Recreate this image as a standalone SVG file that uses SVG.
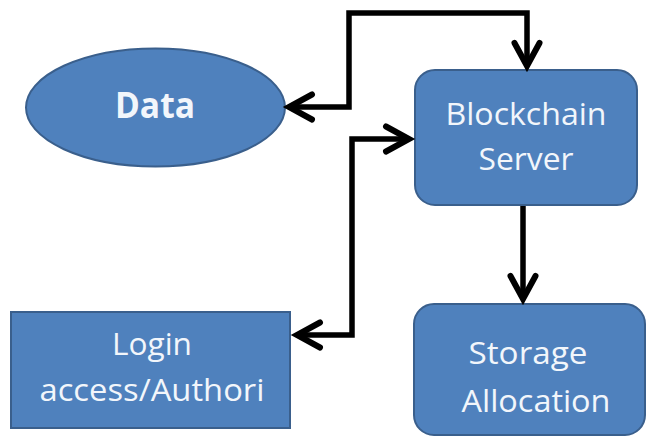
<svg xmlns="http://www.w3.org/2000/svg" width="646" height="436" viewBox="0 0 646 436">
  <style>
    .node { fill: #4F81BD; stroke: #3A5F8C; stroke-width: 2; }
    .label { font-family: "Open Sans", "Liberation Sans", sans-serif; font-size: 31px; fill: #F2F6FB; text-anchor: middle; }
    .bold { font-weight: bold; font-size: 35px; }
    .wire { fill: none; stroke: #000; stroke-width: 5.5; stroke-linejoin: miter; }
  </style>
  <defs>
    <marker id="chevron" markerUnits="userSpaceOnUse" markerWidth="40" markerHeight="40" refX="0" refY="0" viewBox="-30 -20 40 40" orient="auto-start-reverse" overflow="visible">
      <path d="M-23,-12.5 L0,0 L-23,12.5" fill="none" stroke="#000" stroke-width="6" stroke-linecap="round" stroke-linejoin="miter"/>
    </marker>
  </defs>

  <g id="data">
    <ellipse class="node" cx="155.5" cy="107.5" rx="129.5" ry="59"/>
    <text class="label bold" x="155" y="118" textLength="80" lengthAdjust="spacingAndGlyphs">Data</text>
  </g>

  <g id="blockchain-server">
    <rect class="node" x="415" y="70" width="222" height="135" rx="20"/>
    <text class="label" x="526" y="125" textLength="161" lengthAdjust="spacingAndGlyphs">Blockchain</text>
    <text class="label" x="526" y="170" textLength="95" lengthAdjust="spacingAndGlyphs">Server</text>
  </g>

  <g id="login">
    <rect class="node" x="11" y="312" width="279" height="116"/>
    <text class="label" x="152" y="355" textLength="80" lengthAdjust="spacingAndGlyphs">Login</text>
    <text class="label" x="152" y="401" textLength="225" lengthAdjust="spacingAndGlyphs">access/Authori</text>
  </g>

  <g id="storage">
    <rect class="node" x="414" y="304" width="231" height="131" rx="20"/>
    <text class="label" x="528" y="364" textLength="119" lengthAdjust="spacingAndGlyphs">Storage</text>
    <text class="label" x="536" y="412" textLength="149" lengthAdjust="spacingAndGlyphs">Allocation</text>
  </g>

  <g id="connectors">
    <path class="wire" d="M289,107 H349 V13 H527 V66" marker-start="url(#chevron)" marker-end="url(#chevron)"/>
    <path class="wire" d="M409,139 H352 V335 H297" marker-start="url(#chevron)" marker-end="url(#chevron)"/>
    <path class="wire" d="M523,206 V299" marker-end="url(#chevron)"/>
  </g>
</svg>
